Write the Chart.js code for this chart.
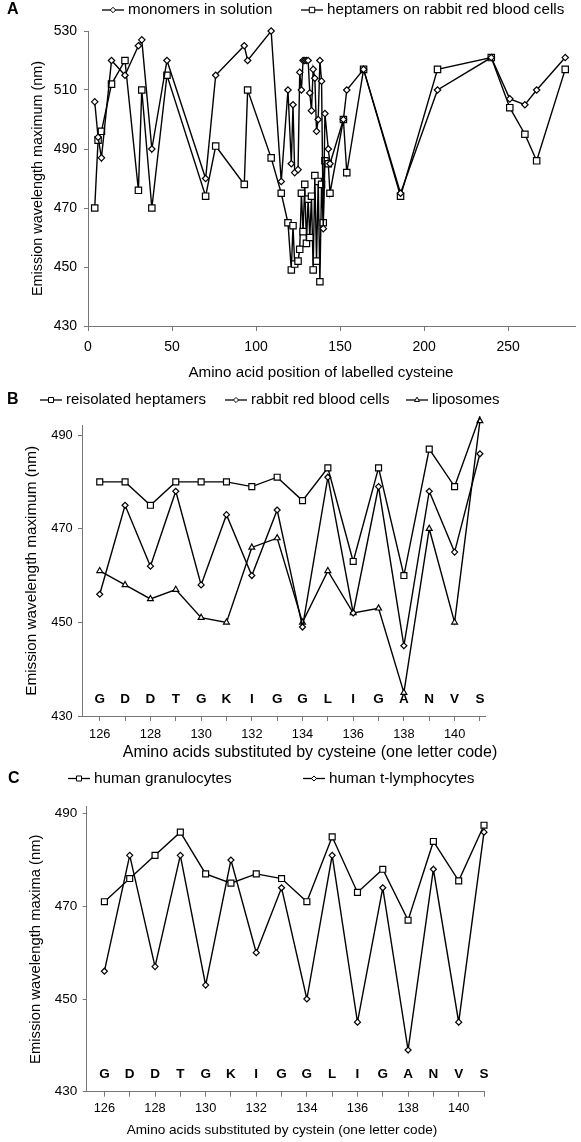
<!DOCTYPE html>
<html>
<head>
<meta charset="utf-8">
<script src="https://cdn.jsdelivr.net/npm/chart.js@4"></script>
<style>
  body { margin: 0; background: #fff; width: 581px; height: 1142px; overflow: hidden; position: relative; }
  canvas { position: absolute; left: 0; }
</style>
</head>
<body>
<canvas id="chartA" width="581" height="392" style="top:0px"></canvas>
<canvas id="chartB" width="581" height="370" style="top:392px"></canvas>
<canvas id="chartC" width="581" height="380" style="top:762px"></canvas>
<script>
// ---- panel A: position of the labelled cysteine over the whole protein
var positionsA = [4, 6, 8, 14, 22, 30, 32, 38, 47, 70, 76, 93, 95, 109, 115, 119, 121, 122, 123, 125,
    126, 127, 128, 129, 130, 131, 132, 133, 134, 135, 136, 137, 138, 139, 140, 141,
    143, 144, 152, 154, 164, 186, 208, 240, 251, 260, 267, 284];
var monomers = [506, 494, 487, 520, 515, 525, 527, 490, 520, 480, 515, 525, 520, 530, 479, 510, 485, 505, 482, 483,
    516, 510, 520, 520, 520, 520, 509, 503, 517, 514, 496, 500, 520, 513, 463, 502,
    490, 485, 500, 510, 517, 475, 510, 521, 507, 505, 510, 521];
var heptamersRbc = [470, 493, 496, 512, 520, 476, 510, 470, 515, 474, 491, 478, 510, 487, 475, 465, 449, 464, 451, 452,
    456, 475, 462, 478, 458, 473, 460, 474, 449, 481, 452, 479, 445, 478, 465, 486,
    485, 475, 500, 482, 517, 474, 517, 521, 504, 495, 486, 517];
var ticksXA = [0, 50, 100, 150, 200, 250];
var ticksYA = [430, 450, 470, 490, 510, 530];

// ---- panels B and C: residues 126-141
var residues = [126, 127, 128, 129, 130, 131, 132, 133, 134, 135, 136, 137, 138, 139, 140, 141];
var residueLetters = ['G', 'D', 'D', 'T', 'G', 'K', 'I', 'G', 'G', 'L', 'I', 'G', 'A', 'N', 'V', 'S'];
var reisolated = [480, 480, 475, 480, 480, 480, 479, 481, 476, 483, 463, 483, 460, 487, 479, 494];
var rabbitRbc = [456, 475, 462, 478, 458, 473, 460, 474, 449, 481, 452, 479, 445, 478, 465, 486];
var liposomes = [461, 458, 455, 457, 451, 450, 466, 468, 450, 461, 452, 453, 435, 470, 450, 493];
var granulocytes = [471, 476, 481, 486, 477, 475, 477, 476, 471, 485, 473, 478, 467, 484, 475.5, 487.5];
var tLymphocytes = [456, 481, 457, 481, 453, 480, 460, 474, 450, 481, 445, 474, 439, 478, 445, 486];
var ticksYBC = [430, 450, 470, 490];

var FONT = '"Liberation Sans", Arial, Helvetica, sans-serif';
Chart.defaults.font.family = FONT;
Chart.defaults.color = '#000';

function series(label, xs, ys, style, radius) {
    return {
        label: label,
        data: xs.map(function(x, i) { return { x: x, y: ys[i] }; }),
        borderColor: '#000',
        borderWidth: 1.4,
        pointStyle: style,
        pointRadius: radius,
        pointBackgroundColor: '#fff',
        pointBorderColor: '#000',
        pointBorderWidth: 1.2,
        tension: 0,
        fill: false,
        clip: false
    };
}

// x title is drawn by panelDeco (it sits off-centre in the original)
function axisX(c) {
    return {
        type: 'linear', min: c.min, max: c.max,
        afterBuildTicks: function(s) { s.ticks = c.ticks.map(function(v) { return { value: v }; }); },
        afterFit: function(s) { s.height = c.height; },
        grid: { drawOnChartArea: false, tickLength: 5, color: '#777' },
        border: { color: '#777', width: 1 },
        ticks: { autoSkip: false, maxRotation: 0, padding: c.tickPad, font: { size: c.tickSize }, callback: c.label },
        title: { display: false }
    };
}

function axisY(c) {
    return {
        min: c.min, max: c.max,
        afterBuildTicks: function(s) { s.ticks = c.ticks.map(function(v) { return { value: v }; }); },
        afterFit: function(s) { s.width = c.width; },
        grid: { drawOnChartArea: false, tickLength: 4, color: '#777' },
        border: { color: '#777', width: 1 },
        ticks: { padding: c.tickPad, font: { size: c.tickSize } },
        title: { display: true, text: c.title, font: { size: c.titleSize }, padding: { top: c.titlePad, bottom: 0 } }
    };
}

// panel letter, line+marker legend, x title and the one letter codes
var panelDeco = {
    id: 'panelDeco',
    afterDraw: function(chart, args, o) {
        var ctx = chart.ctx;
        ctx.save();
        ctx.fillStyle = '#000';
        ctx.textBaseline = 'middle';
        ctx.textAlign = 'left';
        ctx.font = 'bold 16px ' + FONT;
        ctx.fillText(o.letter, o.letterX, o.legendY);

        ctx.font = o.legendSize + 'px ' + FONT;
        chart.data.datasets.forEach(function(ds, i) {
            var x = o.legendX[i], y = o.legendY;
            ctx.strokeStyle = '#000';
            ctx.lineWidth = 1.3;
            ctx.beginPath();
            ctx.moveTo(x, y);
            ctx.lineTo(x + 22, y);
            ctx.stroke();
            ctx.fillStyle = '#fff';
            ctx.lineWidth = 1;
            Chart.helpers.drawPoint(ctx, { pointStyle: ds.pointStyle, radius: ds.pointRadius * 0.85, borderWidth: 1, rotation: 0 }, x + 11, y);
            ctx.fillStyle = '#000';
            ctx.fillText(ds.label, x + 26, y);
        });

        ctx.textAlign = 'center';
        ctx.font = o.xTitleSize + 'px ' + FONT;
        ctx.fillText(o.xTitle, o.xTitleX, o.xTitleY);

        if (o.letters) {
            var xs = chart.scales.x, ys = chart.scales.y;
            ctx.font = 'bold 13.5px ' + FONT;
            o.letters.forEach(function(t, i) {
                ctx.fillText(t, xs.getPixelForValue(residues[i]), ys.getPixelForValue(o.lettersAt));
            });
        }
        ctx.restore();
    }
};

function evenOnly(v) { return v % 2 === 0 ? String(v) : ''; }

function makeChart(id, datasets, x, y, padding, deco) {
    return new Chart(document.getElementById(id), {
        type: 'line',
        data: { datasets: datasets },
        options: {
            responsive: false,
            animation: false,
            devicePixelRatio: 1,
            layout: { padding: padding },
            plugins: { legend: { display: false }, tooltip: { enabled: false }, panelDeco: deco },
            scales: { x: x, y: y }
        },
        plugins: [panelDeco]
    });
}

makeChart('chartA',
    [series('monomers in solution', positionsA, monomers, 'rectRot', 3.2),
     series('heptamers on rabbit red blood cells', positionsA, heptamersRbc, 'rect', 4.5)],
    axisX({ min: 0, max: 290, ticks: ticksXA, height: 66, tickPad: 7.6, tickSize: 14 }),
    axisY({ min: 430, max: 530, ticks: ticksYA, width: 88, tickPad: 7, tickSize: 14,
            title: 'Emission wavelength maximum (nm)', titleSize: 14.4, titlePad: 29 }),
    { top: 31, right: 5, bottom: 0, left: 0 },
    { letter: 'A', letterX: 7, legendY: 10, legendSize: 15.2, legendX: [102, 301],
      xTitle: 'Amino acid position of labelled cysteine', xTitleSize: 15.2, xTitleX: 321, xTitleY: 373 });

makeChart('chartB',
    [series('reisolated heptamers', residues, reisolated, 'rect', 4.2),
     series('rabbit red blood cells', residues, rabbitRbc, 'rectRot', 3),
     series('liposomes', residues, liposomes, 'triangle', 3.4)],
    axisX({ min: 125.3, max: 141.2, ticks: residues, height: 46, tickPad: 5.6, tickSize: 12.8, label: evenOnly }),
    axisY({ min: 430, max: 492, ticks: ticksYBC, width: 82, tickPad: 5.3, tickSize: 12.8,
            title: 'Emission wavelength maximum (nm)', titleSize: 15.3, titlePad: 23 }),
    { top: 33.7, right: 96, bottom: 0, left: 0 },
    { letter: 'B', letterX: 7, legendY: 8, legendSize: 15, legendX: [40, 225, 406], letters: residueLetters, lettersAt: 433.6,
      xTitle: 'Amino acids substituted by cysteine (one letter code)', xTitleSize: 16, xTitleX: 310, xTitleY: 361 });

makeChart('chartC',
    [series('human granulocytes', residues, granulocytes, 'rect', 4.2),
     series('human t-lymphocytes', residues, tLymphocytes, 'rectRot', 3)],
    axisX({ min: 125.3, max: 141.0, ticks: residues, height: 50.3, tickPad: 3.9, tickSize: 12.8, label: evenOnly }),
    axisY({ min: 430, max: 491.5, ticks: ticksYBC, width: 86.7, tickPad: 5.4, tickSize: 13.5,
            title: 'Emission wavelength maxima (nm)', titleSize: 14.8, titlePad: 26.6 }),
    { top: 44.7, right: 97, bottom: 0, left: 0 },
    { letter: 'C', letterX: 8, legendY: 16.5, legendSize: 15.3, legendX: [68, 303], letters: residueLetters, lettersAt: 433.8,
      xTitle: 'Amino acids substituted by cystein (one letter code)', xTitleSize: 13.6, xTitleX: 282, xTitleY: 368 });
</script>
</body>
</html>
